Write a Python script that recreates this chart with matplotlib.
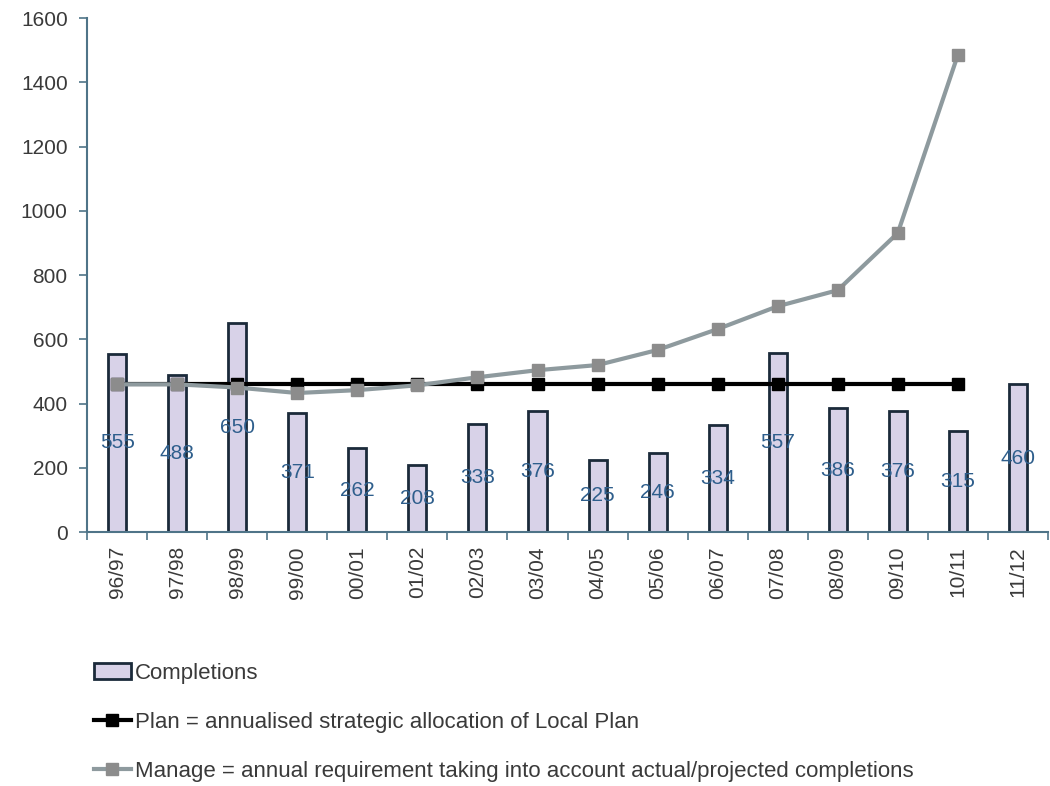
import matplotlib
matplotlib.use("Agg")
import matplotlib.pyplot as plt
from matplotlib.lines import Line2D
from matplotlib.patches import Patch
import numpy as np

years = ["96/97", "97/98", "98/99", "99/00", "00/01", "01/02", "02/03", "03/04",
         "04/05", "05/06", "06/07", "07/08", "08/09", "09/10", "10/11", "11/12"]
completions = [555, 488, 650, 371, 262, 208, 338, 376, 225, 246, 334, 557, 386, 376, 315, 460]
plan = [460] * 15
manage = [460, 460, 450, 433, 442, 457, 482, 504, 520, 567, 632, 703, 753, 931, 1485]

plt.rcParams['font.family'] = ['Liberation Sans', 'DejaVu Sans']

fig = plt.figure(figsize=(10.5, 7.86), dpi=100)
ax = fig.add_axes([0.083, 0.323, 0.915, 0.654])

x = np.arange(len(years))
bar_fill = "#D8D2E8"
bar_edge = "#1B2A3A"
label_col = "#2E5E8C"
axis_col = "#4F7488"
text_col = "#3A3A3A"

ax.bar(x, completions, width=0.3, color=bar_fill, edgecolor=bar_edge, linewidth=2, zorder=2)
for xi, v in zip(x, completions):
    ax.text(xi, v / 2, str(v), ha="center", va="center", fontsize=15,
            color=label_col, zorder=5)

ax.plot(x[:len(plan)], plan, color="black", linewidth=3, marker="s", markersize=9,
        zorder=3)
ax.plot(x[:len(manage)], manage, color="#8E9A9E", linewidth=3, marker="s",
        markersize=9, markerfacecolor="#8C8C8C", markeredgecolor="#8C8C8C", zorder=4)

ax.set_xlim(-0.5, len(years) - 0.5)
ax.set_ylim(0, 1600)
ax.set_yticks(range(0, 1601, 200))
ax.set_xticks(x)
ax.set_xticklabels(years, rotation=90, fontsize=15, color=text_col)
ax.set_xticks(np.arange(-0.5, len(years), 1), minor=True)
ax.tick_params(axis="x", which="major", length=0, pad=10)
ax.tick_params(axis="x", which="minor", length=6, color=axis_col, width=1.2)
ax.tick_params(axis="y", length=6, color=axis_col, width=1.2, labelsize=15,
               labelcolor=text_col, pad=8)

for s in ("top", "right"):
    ax.spines[s].set_visible(False)
for s in ("left", "bottom"):
    ax.spines[s].set_color(axis_col)
    ax.spines[s].set_linewidth(1.5)

handles = [
    Patch(facecolor=bar_fill, edgecolor=bar_edge, linewidth=2),
    Line2D([], [], color="black", linewidth=3, marker="s", markersize=8),
    Line2D([], [], color="#8E9A9E", linewidth=3, marker="s", markersize=8,
           markerfacecolor="#8C8C8C", markeredgecolor="#8C8C8C"),
]
labels = [
    "Completions",
    "Plan = annualised strategic allocation of Local Plan",
    "Manage = annual requirement taking into account actual/projected completions",
]
fig.legend(handles, labels, loc="upper left", bbox_to_anchor=(0.07, 0.182),
           frameon=False, fontsize=16, labelspacing=1.25, handlelength=1.7,
           handletextpad=0.15, labelcolor=text_col)

fig.savefig("out.png", dpi=100)
